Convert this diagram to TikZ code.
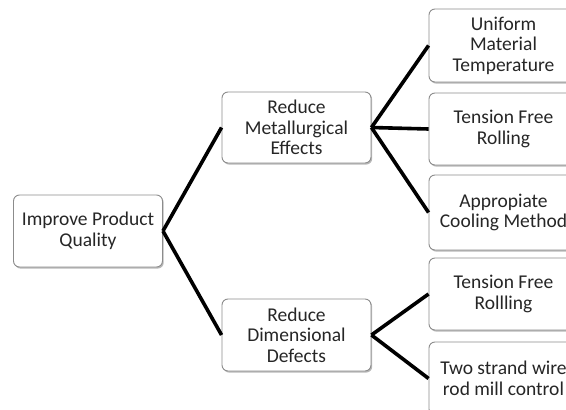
\documentclass[tikz,border=0pt]{standalone}
\usepackage{fontspec}
\setmainfont{Carlito}
\usetikzlibrary{shadows}
\begin{document}
\begin{tikzpicture}[x=1pt,y=-1pt,
  box/.style={draw=black!45, line width=0.9pt, rounded corners=6pt, fill=white,
    drop shadow={shadow xshift=1.2pt, shadow yshift=-1.6pt, fill=black!35, opacity=0.8},
    minimum width=149pt, align=center, text=black!85, inner sep=1pt,
    font=\fontsize{19.5}{20.5}\selectfont},
  link/.style={line width=3.6pt, black}]
\useasboundingbox (0,0) rectangle (566,410);
\clip (0,0) rectangle (566,410);
\node[box, minimum height=72pt] (q) at (88,231) {Improve Product\\Quality};
\node[box, minimum height=71pt] (m) at (296.5,127.5) {Reduce\\Metallurgical\\Effects};
\node[box, minimum height=72pt] (d) at (296.5,335) {Reduce\\Dimensional\\Defects};
\node[box, minimum height=73pt] (r1) at (503.5,45.5) {Uniform\\Material\\Temperature};
\node[box, minimum height=72pt] (r2) at (503.5,129) {Tension Free\\Rolling};
\node[box, minimum height=75pt] (r3) at (503.5,212.5) {Appropiate\\Cooling Method};
\node[box, minimum height=72pt] (r4) at (503.5,294) {Tension Free\\Rollling};
\node[box, minimum height=73pt] (r5) at (503.5,378.5) {Two strand wire\\rod mill control};
\draw[link] (q.east) -- (m.west);
\draw[link] (q.east) -- (d.west);
\draw[link] (m.east) -- (r1.west);
\draw[link] (m.east) -- (r2.west);
\draw[link] (m.east) -- (r3.west);
\draw[link] (d.east) -- (r4.west);
\draw[link] (d.east) -- (r5.west);
\end{tikzpicture}
\end{document}
